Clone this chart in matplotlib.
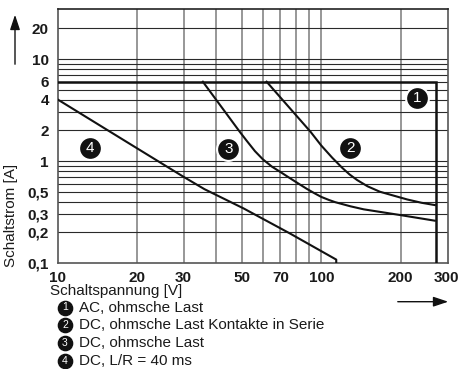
import matplotlib
matplotlib.use("Agg")
import matplotlib.pyplot as plt
from matplotlib.ticker import FixedLocator, FixedFormatter, NullLocator

plt.rcParams['font.family'] = ['Liberation Sans', 'DejaVu Sans']

# ---- data ----
x_ticks = [10, 20, 30, 50, 70, 100, 200, 300]
x_ticklabels = ["10", "20", "30", "50", "70", "100", "200", "300"]
y_ticks = [0.1, 0.2, 0.3, 0.5, 1, 2, 4, 6, 10, 20]
y_ticklabels = ["0,1", "0,2", "0,3", "0,5", "1", "2", "4", "6", "10", "20"]
x_grid = [20, 30, 40, 50, 60, 70, 80, 90, 100, 200]
y_grid = [0.2, 0.3, 0.4, 0.5, 0.6, 0.7, 0.8, 0.9, 1, 2, 3, 4, 5, 6, 7, 8, 9, 10, 20]

# curve 1: AC, ohmsche Last
c1_v = [10, 274, 274]
c1_i = [6, 6, 0.1]
# curve 2: DC, ohmsche Last Kontakte in Serie
c2_v = [62, 91, 100, 110, 120, 128, 137, 150, 167, 190, 212, 240, 270]
c2_i = [6, 1.94, 1.42, 1.08, 0.86, 0.74, 0.65, 0.565, 0.50, 0.455, 0.42, 0.39, 0.37]
# curve 3: DC, ohmsche Last
c3_v = [35.5, 49, 52, 56, 60, 65, 70, 76, 82, 88, 94, 100, 107, 113, 129, 145, 200, 270]
c3_i = [6, 1.94, 1.59, 1.25, 1.04, 0.88, 0.78, 0.68, 0.60, 0.535, 0.485, 0.445, 0.415,
        0.395, 0.36, 0.336, 0.295, 0.26]
# curve 4: DC, L/R = 40 ms
c4_v = [10, 15, 20, 30, 36, 50.7, 76, 114, 114]
c4_i = [4, 2.1, 1.33, 0.70, 0.53, 0.343, 0.195, 0.108, 0.1]

marker_labels = ["1", "2", "3", "4"]
marker_v = [232, 129, 44.4, 13.2]
marker_i = [4.12, 1.33, 1.30, 1.33]

legend_texts = ["AC, ohmsche Last",
                "DC, ohmsche Last Kontakte in Serie",
                "DC, ohmsche Last",
                "DC, L/R = 40 ms"]

W, H = 459, 369
fig = plt.figure(figsize=(W / 100, H / 100), dpi=100)
ax = fig.add_axes([58 / W, 1 - 263 / H, 390 / W, 254 / H])
ax.set_xscale('log')
ax.set_yscale('log')
ax.set_xlim(10, 303)
ax.set_ylim(0.1, 31)

for v in x_grid:
    ax.axvline(v, color='#7a7a7a', lw=1.1, zorder=1)
for i in y_grid:
    ax.axhline(i, color='#2a2a2a', lw=0.8, zorder=1)

for sp in ax.spines.values():
    sp.set_color('#555555')
    sp.set_linewidth(1.2)
ax.spines['top'].set_color('#222222')

ax.xaxis.set_major_locator(FixedLocator(x_ticks))
ax.xaxis.set_major_formatter(FixedFormatter(x_ticklabels))
ax.xaxis.set_minor_locator(NullLocator())
ax.yaxis.set_major_locator(FixedLocator(y_ticks))
ax.yaxis.set_major_formatter(FixedFormatter(y_ticklabels))
ax.yaxis.set_minor_locator(NullLocator())
ax.tick_params(axis='both', length=0, labelsize=11, colors='#1a1a1a')
ax.tick_params(axis='x', pad=5.5)
ax.tick_params(axis='y', pad=6.5)
for lab in ax.get_xticklabels() + ax.get_yticklabels():
    lab.set_fontweight('bold')

ax.plot(c1_v, c1_i, color='#111111', lw=1.8, zorder=3, solid_joinstyle='miter')
ax.plot(c2_v, c2_i, color='#111111', lw=1.5, zorder=3)
ax.plot(c3_v, c3_i, color='#111111', lw=1.5, zorder=3)
ax.plot(c4_v, c4_i, color='#111111', lw=1.5, zorder=3)

ax.scatter(marker_v, marker_i, s=270, color='#111111', edgecolors='white',
           linewidths=1.5, zorder=5)
for v, i, t in zip(marker_v, marker_i, marker_labels):
    ax.text(v, i, t, color='white', fontsize=11, ha='center', va='center',
            zorder=6)

# overlay in pixel coordinates for annotations
ov = fig.add_axes([0, 0, 1, 1], facecolor='none')
ov.set_xlim(0, W)
ov.set_ylim(H, 0)
ov.axis('off')

ov.text(11, 215.5, "Schaltstrom [A]", rotation=90, fontsize=11,
        ha='center', va='center', color='#1a1a1a')
ov.text(50, 291.5, "Schaltspannung [V]", fontsize=11, ha='left', va='center',
        color='#1a1a1a')

ov.annotate("", xy=(15, 12), xytext=(15, 67),
            arrowprops=dict(arrowstyle='-|>,head_length=0.9,head_width=0.3',
                            color='#111111', lw=1.0))
ov.annotate("", xy=(451, 301.7), xytext=(395, 301.7),
            arrowprops=dict(arrowstyle='-|>,head_length=0.9,head_width=0.3',
                            color='#111111', lw=1.0))

rows_y = [307.5, 325, 343, 361]
for y, t, n in zip(rows_y, legend_texts, marker_labels):
    ov.scatter([65], [y], s=105, color='#111111', zorder=5)
    ov.text(65, y, n, color='white', fontsize=7.5, ha='center', va='center',
            zorder=6)
    ov.text(79, y, t, fontsize=11, ha='left', va='center', color='#1a1a1a')

fig.savefig("out.png", dpi=100)
